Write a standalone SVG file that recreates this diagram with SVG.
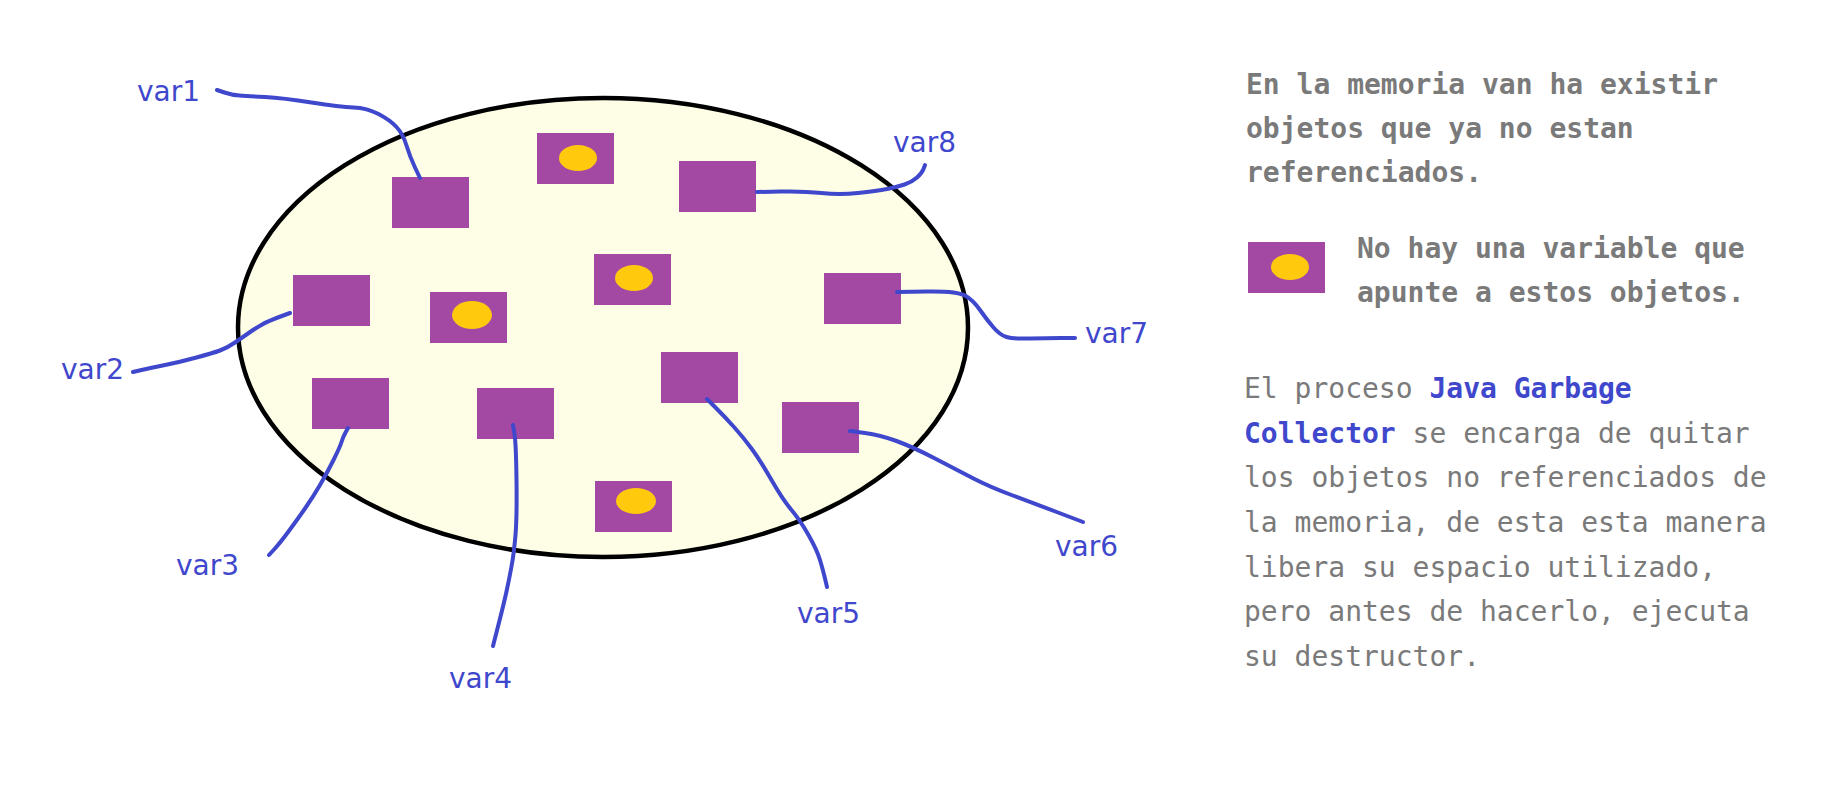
<svg xmlns="http://www.w3.org/2000/svg" width="1845" height="799" viewBox="0 0 1845 799">
  <style>
    .obj { fill: #A349A4; }
    .dot { fill: #FFC90E; }
    .mem { fill: #FEFEE6; stroke: #000000; stroke-width: 4.5; }
    .conn { fill: none; stroke: #3F48CC; stroke-width: 4; stroke-linecap: round; stroke-linejoin: round; }
    .var { font-family: "DejaVu Sans", "Verdana", sans-serif; font-size: 28px; fill: #3F48CC; }
    .txt { font-family: "DejaVu Sans Mono", "Liberation Mono", monospace; font-size: 28px; fill: #7A7A7A; }
    .b { font-weight: bold; }
    .hl { font-weight: bold; fill: #3F48CC; }
  </style>
  <rect width="1845" height="799" fill="#FFFFFF"/>

  <g id="memory">
    <ellipse class="mem" cx="603" cy="327.5" rx="365" ry="229.5"/>
  </g>

  <g id="obj-var1"><rect class="obj" x="392" y="177" width="77" height="51"/></g>
  <g id="obj-orphan1"><rect class="obj" x="537" y="133" width="77" height="51"/><ellipse class="dot" cx="578" cy="158" rx="19" ry="13"/></g>
  <g id="obj-var8"><rect class="obj" x="679" y="161" width="77" height="51"/></g>
  <g id="obj-var2"><rect class="obj" x="293" y="275" width="77" height="51"/></g>
  <g id="obj-orphan2"><rect class="obj" x="430" y="292" width="77" height="51"/><ellipse class="dot" cx="472" cy="315" rx="20" ry="14"/></g>
  <g id="obj-orphan3"><rect class="obj" x="594" y="254" width="77" height="51"/><ellipse class="dot" cx="634" cy="278" rx="19" ry="13"/></g>
  <g id="obj-var7"><rect class="obj" x="824" y="273" width="77" height="51"/></g>
  <g id="obj-var3"><rect class="obj" x="312" y="378" width="77" height="51"/></g>
  <g id="obj-var4"><rect class="obj" x="477" y="388" width="77" height="51"/></g>
  <g id="obj-var5"><rect class="obj" x="661" y="352" width="77" height="51"/></g>
  <g id="obj-var6"><rect class="obj" x="782" y="402" width="77" height="51"/></g>
  <g id="obj-orphan4"><rect class="obj" x="595" y="481" width="77" height="51"/><ellipse class="dot" cx="636" cy="501" rx="20" ry="13"/></g>

  <g id="connectors">
    <path class="conn" d="M217,90 L224.5,92.5 Q232,95 239.5,95.5 Q247,96 265,97 Q283,98 311.5,102.5 Q340,107 353.5,107.5 Q367,108 378.5,114 Q390,120 396.5,127 Q403,134 406.5,145.5 Q410,157 415,167.5 L420,178"/>
    <path class="conn" d="M133,372 L141.5,370 Q150,368 165,365 Q180,362 196.5,357.5 Q213,353 220,350.5 Q227,348 235,342.5 Q243,337 253,330 Q263,323 276.5,318 L290,313"/>
    <path class="conn" d="M269,555 L274.5,549 Q280,543 288.5,531.5 Q297,520 305,508.5 Q313,497 320,485 Q327,473 333.5,460 Q340,447 341.5,442 Q343,437 345.5,432.5 L348,428"/>
    <path class="conn" d="M493,646 L498.5,624.5 Q504,603 506.5,591.5 Q509,580 511.5,566.5 Q514,553 515.5,535 Q517,517 516.5,480 Q516,443 514.5,434 L513,425"/>
    <path class="conn" d="M707,399 L716,408 Q725,417 734,427 Q743,437 751.5,448.5 Q760,460 771.5,480 Q783,500 791.5,510 Q800,520 808.5,535 Q817,550 820,560 Q823,570 825,578.5 L827,587"/>
    <path class="conn" d="M850,431 L865,433 Q880,435 896.5,441 Q913,447 935,458.5 Q957,470 973.5,478.5 Q990,487 1011.5,495 Q1033,503 1058,512.5 L1083,522"/>
    <path class="conn" d="M897,292 L927,291.5 Q957,291 965,295.5 Q973,300 980,310 Q987,320 993.5,327.5 Q1000,335 1006.5,337 Q1013,339 1030,338.5 Q1047,338 1061,338 L1075,338"/>
    <path class="conn" d="M757,192 L780.5,191.5 Q804,191 821.5,193 Q839,195 858,193 Q877,191 887,189 Q897,187 904.5,184.5 Q912,182 917,177.5 Q922,173 923.5,169 L925,165"/>
  </g>

  <g id="labels">
    <text class="var" x="137" y="101">var1</text>
    <text class="var" x="61" y="379">var2</text>
    <text class="var" x="176" y="575">var3</text>
    <text class="var" x="449" y="688">var4</text>
    <text class="var" x="797" y="623">var5</text>
    <text class="var" x="1055" y="556">var6</text>
    <text class="var" x="1085" y="343">var7</text>
    <text class="var" x="893" y="152">var8</text>
  </g>

  <g id="note1">
    <text class="txt b" x="1246" y="94">En la memoria van ha existir</text>
    <text class="txt b" x="1246" y="138">objetos que ya no estan</text>
    <text class="txt b" x="1246" y="182">referenciados.</text>
  </g>

  <g id="legend">
    <rect class="obj" x="1248" y="242" width="77" height="51"/>
    <ellipse class="dot" cx="1290" cy="267" rx="19" ry="13"/>
    <text class="txt b" x="1357" y="258">No hay una variable que</text>
    <text class="txt b" x="1357" y="302">apunte a estos objetos.</text>
  </g>

  <g id="note2">
    <text class="txt" x="1244" y="398">El proceso <tspan class="hl">Java Garbage</tspan></text>
    <text class="txt" x="1244" y="443"><tspan class="hl">Collector</tspan> se encarga de quitar</text>
    <text class="txt" x="1244" y="487">los objetos no referenciados de</text>
    <text class="txt" x="1244" y="532">la memoria, de esta esta manera</text>
    <text class="txt" x="1244" y="577">libera su espacio utilizado,</text>
    <text class="txt" x="1244" y="621">pero antes de hacerlo, ejecuta</text>
    <text class="txt" x="1244" y="666">su destructor.</text>
  </g>
</svg>
